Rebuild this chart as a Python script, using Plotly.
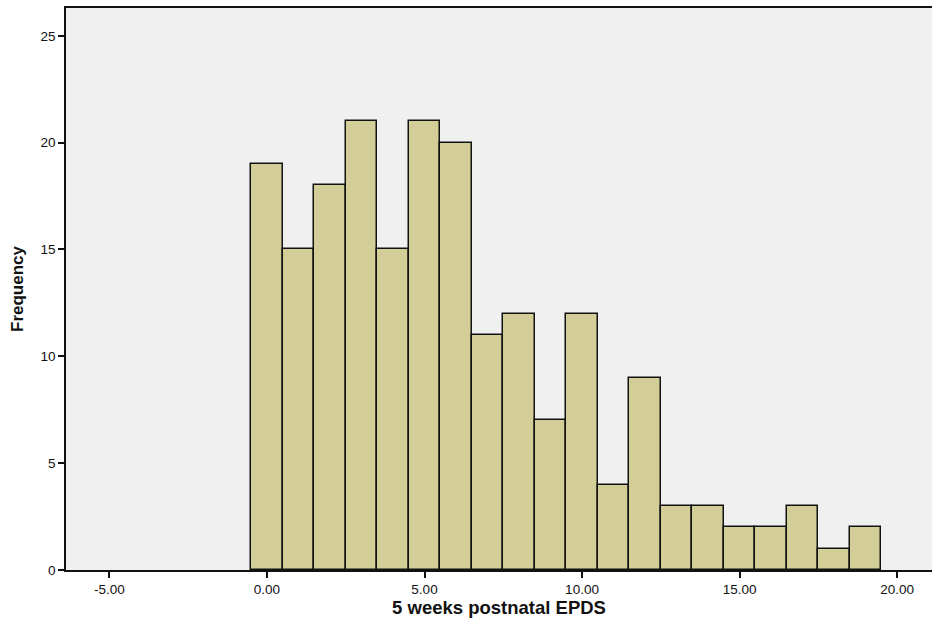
import plotly.graph_objects as go

# 5 weeks postnatal EPDS score bins (width 1) and their counts
scores = list(range(0, 20))
counts = [19, 15, 18, 21, 15, 21, 20, 11, 12, 7, 12, 4, 9, 3, 3, 2, 2, 3, 1, 2]

x_ticks = [-5, 0, 5, 10, 15, 20]
x_tick_text = ["-5.00", "0.00", "5.00", "10.00", "15.00", "20.00"]
y_ticks = [0, 5, 10, 15, 20, 25]

fig = go.Figure(
    go.Bar(
        x=scores,
        y=counts,
        width=1,
        marker=dict(color="#D3CE98", line=dict(color="#111111", width=1.5)),
        hoverinfo="x+y",
    )
)

fig.update_layout(
    width=932,
    height=628,
    margin=dict(l=66, r=0, t=8, b=58),
    paper_bgcolor="white",
    plot_bgcolor="#F0F0F0",
    font=dict(family="Liberation Sans, Arial, sans-serif", color="#111111", size=13.5),
    showlegend=False,
    bargap=0,
)

fig.update_xaxes(
    range=[-6.38, 21.11],
    tickvals=x_ticks,
    ticktext=x_tick_text,
    ticks="outside",
    ticklen=6,
    tickwidth=2,
    tickcolor="#111111",
    showline=True,
    linecolor="#111111",
    linewidth=1.5,
    mirror=True,
    showgrid=False,
    zeroline=False,
    title=dict(text="<b>5 weeks postnatal EPDS</b>", font=dict(size=18.5), standoff=4),
)

fig.update_yaxes(
    range=[0, 26.3],
    tickvals=y_ticks,
    ticks="outside",
    ticklen=6,
    tickwidth=2,
    tickcolor="#111111",
    showline=True,
    linecolor="#111111",
    linewidth=1.5,
    showgrid=False,
    zeroline=False,
    title=dict(text="<b>Frequency</b>", font=dict(size=17), standoff=13),
)

fig.write_html("out.html")
